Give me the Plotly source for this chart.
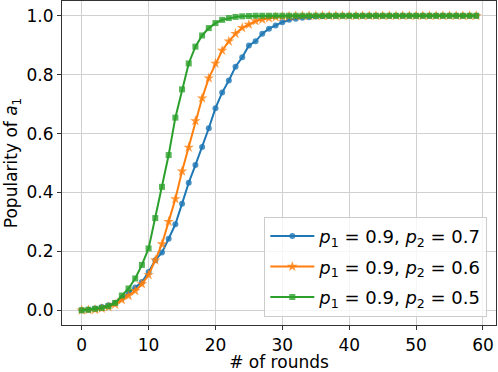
import plotly.graph_objects as go

rounds = list(range(60))

pop_p2_07 = [
    0.0, 0.002, 0.006, 0.011, 0.017, 0.025, 0.04, 0.06, 0.077, 0.096,
    0.13, 0.17, 0.196, 0.243, 0.292, 0.362, 0.433, 0.493, 0.554, 0.618,
    0.686, 0.739, 0.78, 0.827, 0.859, 0.899, 0.913, 0.939, 0.956, 0.967,
    0.978, 0.986, 0.99, 0.993, 0.995, 0.997, 0.998, 0.999, 1.0, 1.0,
    1.0, 1.0, 1.0, 1.0, 1.0, 1.0, 1.0, 1.0, 1.0, 1.0,
    1.0, 1.0, 1.0, 1.0, 1.0, 1.0, 1.0, 1.0, 1.0, 1.0,
]
pop_p2_06 = [
    0.0, 0.001, 0.002, 0.006, 0.011, 0.02, 0.035, 0.049, 0.066, 0.089,
    0.12, 0.17, 0.225, 0.301, 0.378, 0.472, 0.553, 0.643, 0.72, 0.788,
    0.838, 0.882, 0.913, 0.939, 0.959, 0.97, 0.982, 0.987, 0.992, 0.995,
    0.997, 0.998, 0.999, 1.0, 1.0, 1.0, 1.0, 1.0, 1.0, 1.0,
    1.0, 1.0, 1.0, 1.0, 1.0, 1.0, 1.0, 1.0, 1.0, 1.0,
    1.0, 1.0, 1.0, 1.0, 1.0, 1.0, 1.0, 1.0, 1.0, 1.0,
]
pop_p2_05 = [
    0.0, 0.002, 0.005, 0.008, 0.014, 0.025, 0.05, 0.074, 0.108, 0.154,
    0.21, 0.313, 0.419, 0.527, 0.654, 0.75, 0.838, 0.895, 0.933, 0.958,
    0.975, 0.986, 0.992, 0.996, 0.998, 0.999, 1.0, 1.0, 1.0, 1.0,
    1.0, 1.0, 1.0, 1.0, 1.0, 1.0, 1.0, 1.0, 1.0, 1.0,
    1.0, 1.0, 1.0, 1.0, 1.0, 1.0, 1.0, 1.0, 1.0, 1.0,
    1.0, 1.0, 1.0, 1.0, 1.0, 1.0, 1.0, 1.0, 1.0, 1.0,
]

series = [
    ("<i>p</i><sub>1</sub> = 0.9, <i>p</i><sub>2</sub> = 0.7", pop_p2_07, "#1f77b4", "circle", 6),
    ("<i>p</i><sub>1</sub> = 0.9, <i>p</i><sub>2</sub> = 0.6", pop_p2_06, "#ff7f0e", "star", 8),
    ("<i>p</i><sub>1</sub> = 0.9, <i>p</i><sub>2</sub> = 0.5", pop_p2_05, "#2ca02c", "square", 6),
]

fig = go.Figure()
for k, (name, values, color, symbol, msize) in enumerate(series):
    fig.add_trace(
        go.Scatter(
            x=rounds,
            y=values,
            name=name,
            legendgroup=f"g{k}",
            mode="lines+markers",
            line=dict(color=color, width=2),
            marker=dict(symbol=symbol, size=msize, color=color, opacity=0.8),
        )
    )

axis_common = dict(
    automargin=False,
    showgrid=True,
    gridcolor="#d0d0d0",
    gridwidth=1,
    showline=True,
    linecolor="#333333",
    linewidth=1.2,
    mirror=True,
    ticks="outside",
    ticklen=4,
    tickcolor="#333333",
    zeroline=False,
    tickfont=dict(size=17, color="black"),
)

fig.update_xaxes(
    range=[-2.95, 61.95],
    tickvals=[0, 10, 20, 30, 40, 50, 60],
    title=dict(text="# of rounds", font=dict(size=17, color="black"), standoff=4),
    **axis_common,
)
fig.update_yaxes(
    range=[-0.05, 1.05],
    tickvals=[0.0, 0.2, 0.4, 0.6, 0.8, 1.0],
    tickformat=".1f",
    title=dict(text="Popularity of <i>a</i><sub>1</sub>", font=dict(size=17, color="black"), standoff=4),
    **axis_common,
)

fig.update_layout(
    width=498,
    height=372,
    margin=dict(l=62, r=2, t=1, b=47, autoexpand=False),
    plot_bgcolor="white",
    paper_bgcolor="white",
    font=dict(family="DejaVu Sans", size=17, color="black"),
    legend=dict(
        x=0.98,
        y=0.025,
        xanchor="right",
        yanchor="bottom",
        bgcolor="rgba(255,255,255,0.8)",
        bordercolor="#cccccc",
        borderwidth=1,
        font=dict(size=18),
        tracegroupgap=4,
        itemwidth=44,
    ),
    showlegend=True,
)

# the page's default body margin would shift the figure out of the window
fig.write_html(
    "out.html",
    config={"displayModeBar": False},
    post_script="document.body.style.margin='0';",
)
